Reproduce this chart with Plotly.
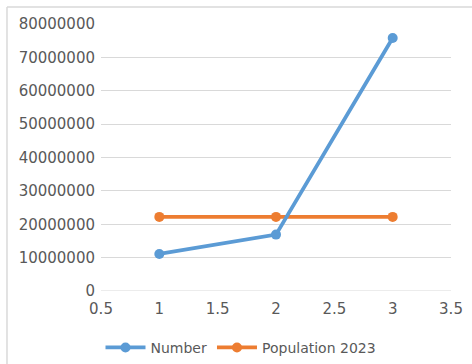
import plotly.graph_objects as go

# Series data
x_vals = [1, 2, 3]
number = [11100000, 16900000, 75800000]
population_2023 = [22200000, 22200000, 22200000]

# Axis ticks
x_ticks = [0.5, 1, 1.5, 2, 2.5, 3, 3.5]
x_ticktext = ["0.5", "1", "1.5", "2", "2.5", "3", "3.5"]
y_ticks = [0, 10000000, 20000000, 30000000, 40000000, 50000000, 60000000, 70000000, 80000000]

BLUE = "#5B9BD5"
ORANGE = "#ED7D31"
GRID = "#D9D9D9"
TEXT = "#595959"
FONT = "DejaVu Sans"

fig = go.Figure()

fig.add_trace(go.Scatter(
    x=x_vals, y=population_2023, name="Population 2023",
    mode="lines+markers",
    line=dict(color=ORANGE, width=3.8),
    marker=dict(color=ORANGE, size=10),
    legendrank=2,
))
fig.add_trace(go.Scatter(
    x=x_vals, y=number, name="Number",
    mode="lines+markers",
    line=dict(color=BLUE, width=3.8),
    marker=dict(color=BLUE, size=10),
    legendrank=1,
))

fig.update_layout(
    width=472, height=364,
    margin=dict(l=101, r=21, t=24, b=73, autoexpand=False),
    paper_bgcolor="white", plot_bgcolor="white",
    font=dict(family=FONT, size=15, color=TEXT),
    showlegend=True,
    legend=dict(orientation="h", x=0.4, xanchor="center", y=-0.213, yanchor="middle",
                font=dict(family=FONT, size=14, color=TEXT),
                itemwidth=40, traceorder="normal"),
    xaxis=dict(range=[0.5, 3.5], tickvals=x_ticks, ticktext=x_ticktext,
               showgrid=False, zeroline=False, showline=False, ticks="",
               ticklabelstandoff=7,
               tickfont=dict(family=FONT, size=15, color=TEXT)),
    yaxis=dict(range=[0, 80000000], tickvals=y_ticks,
               tickformat="d", showgrid=True, gridcolor=GRID, gridwidth=1,
               zeroline=False, showline=False, ticks="",
               ticklabelstandoff=5,
               tickfont=dict(family=FONT, size=15, color=TEXT)),
    shapes=[
        # baseline at zero
        dict(type="line", xref="paper", yref="y", x0=0, x1=1, y0=0, y1=0,
             line=dict(color=GRID, width=1), layer="below"),
        # chart frame: left and top edges
        dict(type="line", xref="paper", yref="paper", x0=-0.2686, x1=-0.2686,
             y0=-0.3, y1=1.0637, line=dict(color=GRID, width=1.5)),
        dict(type="line", xref="paper", yref="paper", x0=-0.2686, x1=1.1,
             y0=1.0637, y1=1.0637, line=dict(color=GRID, width=1.5)),
    ],
)

fig.write_html("out.html")
